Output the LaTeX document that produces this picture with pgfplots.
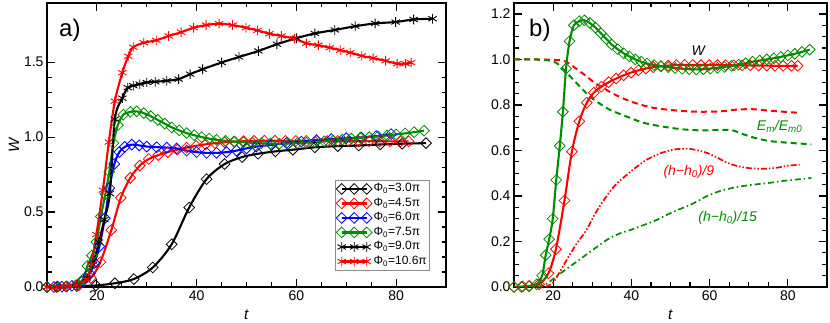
\documentclass[border=0pt]{standalone}
\usepackage{fontspec}
\setmainfont{Liberation Sans}
\usepackage{pgfplots}
\pgfplotsset{compat=1.18}
\definecolor{idlred}{RGB}{255,0,0}
\definecolor{idlgreen}{RGB}{0,140,0}
\definecolor{idlblue}{RGB}{0,0,255}
\pgfplotsset{
  myax/.style={
    scale only axis, height=284pt,
    xmin=10, xmax=90,
    axis line style={line width=1.7pt},
    tick style={black, line width=1.2pt},
    major tick length=8pt, minor tick length=4.5pt,
    tick align=inside,
    xtick={20,40,60,80}, minor x tick num=3,
    ticklabel style={font=\fontsize{14}{16}\selectfont},
    /pgf/number format/assume math mode=true,
    yticklabel style={/pgf/number format/.cd, fixed, fixed zerofill, precision=1, assume math mode=true},
    xlabel={\textit{t}}, xlabel style={font=\fontsize{15}{17}\selectfont, yshift=-2pt},
    clip=true,
  },
  dia/.style={mark=square, mark options={rotate=45, solid, line width=0.8pt}, mark size=3.8pt, line width=2.1pt},
  ast/.style={mark=asterisk, mark options={solid, line width=0.9pt}, mark size=4.8pt, line width=2.1pt},
}
\pgfplotstableread{
t W
10.0 0.0
12.0 0.003
16.0 0.006
19.8 0.010
23.6 0.025
27.4 0.053
31.2 0.13
35.0 0.285
38.5 0.53
42.0 0.72
45.6 0.82
49.1 0.867
52.3 0.889
55.8 0.905
59.3 0.916
63.7 0.932
68.3 0.94
72.5 0.944
76.8 0.951
81.2 0.956
86.0 0.96
}\blackdia
\pgfplotstableread{
t W
10.0 0.0
11.9 0.0
13.8 0.003
16.4 0.012
18.8 0.06
20.7 0.166
22.9 0.38
24.8 0.595
26.7 0.728
28.6 0.81
30.4 0.854
32.3 0.88
34.2 0.9
36.1 0.916
38.0 0.93
39.9 0.942
41.8 0.952
43.7 0.96
45.6 0.966
47.5 0.97
49.4 0.973
51.5 0.975
53.6 0.976
55.7 0.976
57.8 0.975
59.9 0.975
62.0 0.975
64.1 0.975
66.2 0.974
68.3 0.974
70.4 0.974
72.5 0.973
74.6 0.973
76.7 0.972
78.8 0.972
80.9 0.972
82.5 0.972
}\reddia
\pgfplotstableread{
t W
10.0 0.0
11.4 0.0
13.0 0.002
15.0 0.008
17.0 0.035
18.5 0.09
19.5 0.16
20.5 0.27
21.6 0.46
22.5 0.66
23.5 0.82
24.5 0.9
25.6 0.935
27.0 0.95
28.5 0.945
30.0 0.937
32.0 0.933
34.0 0.93
36.0 0.925
38.0 0.91
40.0 0.9
42.0 0.895
44.0 0.895
46.0 0.9
48.0 0.91
50.0 0.925
52.0 0.937
55.0 0.948
58.0 0.96
61.0 0.97
64.0 0.98
67.0 0.987
70.0 0.993
73.0 0.998
76.0 1.007
79.0 1.02
}\bluedia
\pgfplotstableread{
t W
10.0 0.0
12.2 0.002
14.0 0.005
15.8 0.012
17.2 0.05
18.1 0.14
19.0 0.21
19.9 0.30
20.8 0.47
21.7 0.62
22.5 0.77
23.3 0.96
24.2 1.08
25.3 1.15
26.7 1.168
28.0 1.172
29.4 1.16
30.8 1.14
32.2 1.115
33.6 1.09
35.0 1.065
36.5 1.045
38.0 1.027
39.5 1.013
41.0 1.0
42.5 0.99
44.0 0.982
45.8 0.975
47.6 0.97
49.4 0.966
51.2 0.962
53.0 0.959
54.8 0.957
56.6 0.956
58.4 0.957
60.2 0.96
62.0 0.963
63.8 0.967
65.6 0.972
67.4 0.977
69.2 0.983
71.0 0.99
72.8 0.995
74.6 1.0
76.4 1.005
78.2 1.011
80.0 1.018
81.8 1.025
83.6 1.033
85.6 1.043
}\greendia
\pgfplotstableread{
t W
10.0 0.0
12.0 0.0
14.0 0.004
16.0 0.015
18.0 0.06
19.2 0.15
20.4 0.3
21.5 0.45
22.6 0.624
23.6 1.12
25.1 1.26
26.2 1.33
27.3 1.343
28.6 1.354
30.0 1.365
31.7 1.369
34.0 1.376
36.4 1.387
38.7 1.42
41.2 1.453
45.0 1.498
48.5 1.535
52.4 1.575
56.1 1.62
60.0 1.66
63.7 1.692
67.7 1.715
71.8 1.74
75.8 1.759
79.9 1.768
83.5 1.785
87.3 1.79
}\blackast
\pgfplotstableread{
t W
10.0 0.0
12.0 0.0
14.0 0.003
16.0 0.015
17.8 0.05
18.9 0.15
19.9 0.35
21.2 0.646
22.4 0.967
23.6 1.24
25.1 1.43
26.3 1.54
27.3 1.60
29.4 1.63
31.9 1.646
34.4 1.675
36.9 1.70
39.4 1.73
41.9 1.748
44.5 1.757
47.2 1.748
49.9 1.73
52.2 1.712
54.6 1.69
57.0 1.675
59.6 1.657
62.0 1.626
64.4 1.613
66.7 1.597
68.8 1.58
70.8 1.564
73.1 1.542
75.4 1.527
77.9 1.509
80.2 1.49
81.9 1.49
83.0 1.497
}\redast
\pgfplotstableread{
t W
10 1.0
15 1.0
20 0.998
22.5 0.995
24 0.983
26 0.958
28.6 0.925
30.5 0.898
32.8 0.875
35.5 0.848
38.8 0.822
42 0.803
45.7 0.787
50 0.778
54.3 0.772
58 0.77
62.9 0.772
67.2 0.78
71.4 0.781
75 0.775
79 0.77
83 0.765
}\redem
\pgfplotstableread{
t W
10 1.0
15 1.0
18.4 0.997
20.9 0.984
23 0.95
25.2 0.91
27.3 0.873
29.4 0.837
32 0.805
34.6 0.778
38.8 0.749
43 0.722
48 0.705
53 0.693
58 0.688
62 0.69
65.5 0.69
68 0.675
71 0.658
75 0.642
80 0.634
86 0.627
}\greenem
\pgfplotstableread{
t W
18 0.0
20 0.02
22 0.075
24 0.135
26 0.19
28.5 0.25
31 0.33
33.7 0.4
36 0.45
38.9 0.494
41.5 0.53
44 0.56
47.5 0.588
50.9 0.604
54.3 0.608
57 0.6
59.4 0.589
62 0.568
64.6 0.545
67 0.532
69.7 0.523
72 0.52
74.9 0.52
77.5 0.525
80 0.533
83 0.537
}\redh
\pgfplotstableread{
t W
16 0.0
18 0.01
19.6 0.03
21.5 0.055
23.5 0.08
25.5 0.105
27.5 0.13
29.5 0.155
31.5 0.18
34 0.21
37 0.235
40 0.252
42.3 0.267
45.7 0.289
49.2 0.318
52 0.34
54.3 0.355
57 0.378
59.4 0.4
62.9 0.423
67.2 0.44
71.4 0.45
75 0.457
78.3 0.465
82 0.472
86 0.479
}\greenh
\begin{document}
\begin{tikzpicture}[x=1pt,y=1pt]
\useasboundingbox (0,0) rectangle (830,323);
\begin{axis}[myax, at={(47pt,36pt)}, anchor=south west, width=399pt,
  ymin=0, ymax=1.895, ytick={0,0.5,1,1.5}, minor y tick num=4,
  ylabel={\textit{W}}, ylabel style={font=\fontsize{15}{17}\selectfont, yshift=-2pt},
  legend style={at={(0.96,0.377)}, anchor=north east, draw=black!45, line width=0.6pt,
    font=\fontsize{12}{13}\selectfont, inner sep=1.5pt, row sep=0pt,
    nodes={inner sep=1.5pt, text height=8.5pt, text depth=3pt}},
  legend cell align=left,
  legend image code/.code={\draw[mark repeat=1,mark phase=1,#1] plot coordinates {(0pt,0pt) (12.5pt,0pt) (25pt,0pt)};},
]
\addplot[dia, black, smooth] table[x=t,y=W] {\blackdia};
\addlegendentry{Φ\textsubscript{0}=3.0π}
\addplot[dia, idlred, smooth] table[x=t,y=W] {\reddia};
\addlegendentry{Φ\textsubscript{0}=4.5π}
\addplot[dia, idlblue, smooth] table[x=t,y=W] {\bluedia};
\addlegendentry{Φ\textsubscript{0}=6.0π}
\addplot[dia, idlgreen, smooth] table[x=t,y=W] {\greendia};
\addlegendentry{Φ\textsubscript{0}=7.5π}
\addplot[ast, black, smooth] table[x=t,y=W] {\blackast};
\addlegendentry{Φ\textsubscript{0}=9.0π}
\addplot[ast, idlred, smooth] table[x=t,y=W] {\redast};
\addlegendentry{Φ\textsubscript{0}=10.6π}
\node[anchor=north west, inner sep=0pt, font=\fontsize{24}{26}\selectfont] at (rel axis cs:0.03,0.945) {a)};
\end{axis}
\begin{axis}[myax, at={(514pt,36pt)}, anchor=south west, width=313pt,
  ymin=0, ymax=1.248, ytick={0,0.2,...,1.2}, minor y tick num=3,
]
\addplot[idlred, line width=2pt, dash pattern=on 6pt off 4pt, smooth] table[x=t,y=W] {\redem};
\addplot[idlgreen, line width=2pt, dash pattern=on 6pt off 4pt, smooth] table[x=t,y=W] {\greenem};
\addplot[idlred, line width=1.7pt, dash pattern=on 6pt off 2pt on 1.5pt off 2pt on 1.5pt off 2pt, smooth] table[x=t,y=W] {\redh};
\addplot[idlgreen, line width=1.7pt, dash pattern=on 6pt off 3pt on 1.5pt off 3pt, smooth] table[x=t,y=W] {\greenh};
\addplot[dia, idlred, smooth] table[x=t,y=W] {\reddia};
\addplot[dia, idlgreen, smooth] table[x=t,y=W] {\greendia};
\node[anchor=north west, inner sep=0pt, font=\fontsize{24}{26}\selectfont] at (rel axis cs:0.048,0.945) {b)};
\node[font=\fontsize{14}{16}\selectfont\itshape] at (axis cs:57.1,1.04) {W};
\node[font=\fontsize{14}{16}\selectfont\itshape, text=idlgreen] at (axis cs:77.9,0.706) {E\textsubscript{m}/E\textsubscript{m0}};
\node[font=\fontsize{14}{16}\selectfont\itshape, text=idlred] at (axis cs:54.7,0.508) {(h−h\textsubscript{0})/9};
\node[font=\fontsize{14}{16}\selectfont\itshape, text=idlgreen] at (axis cs:64.6,0.303) {(h−h\textsubscript{0})/15};
\end{axis}
\end{tikzpicture}
\end{document}
